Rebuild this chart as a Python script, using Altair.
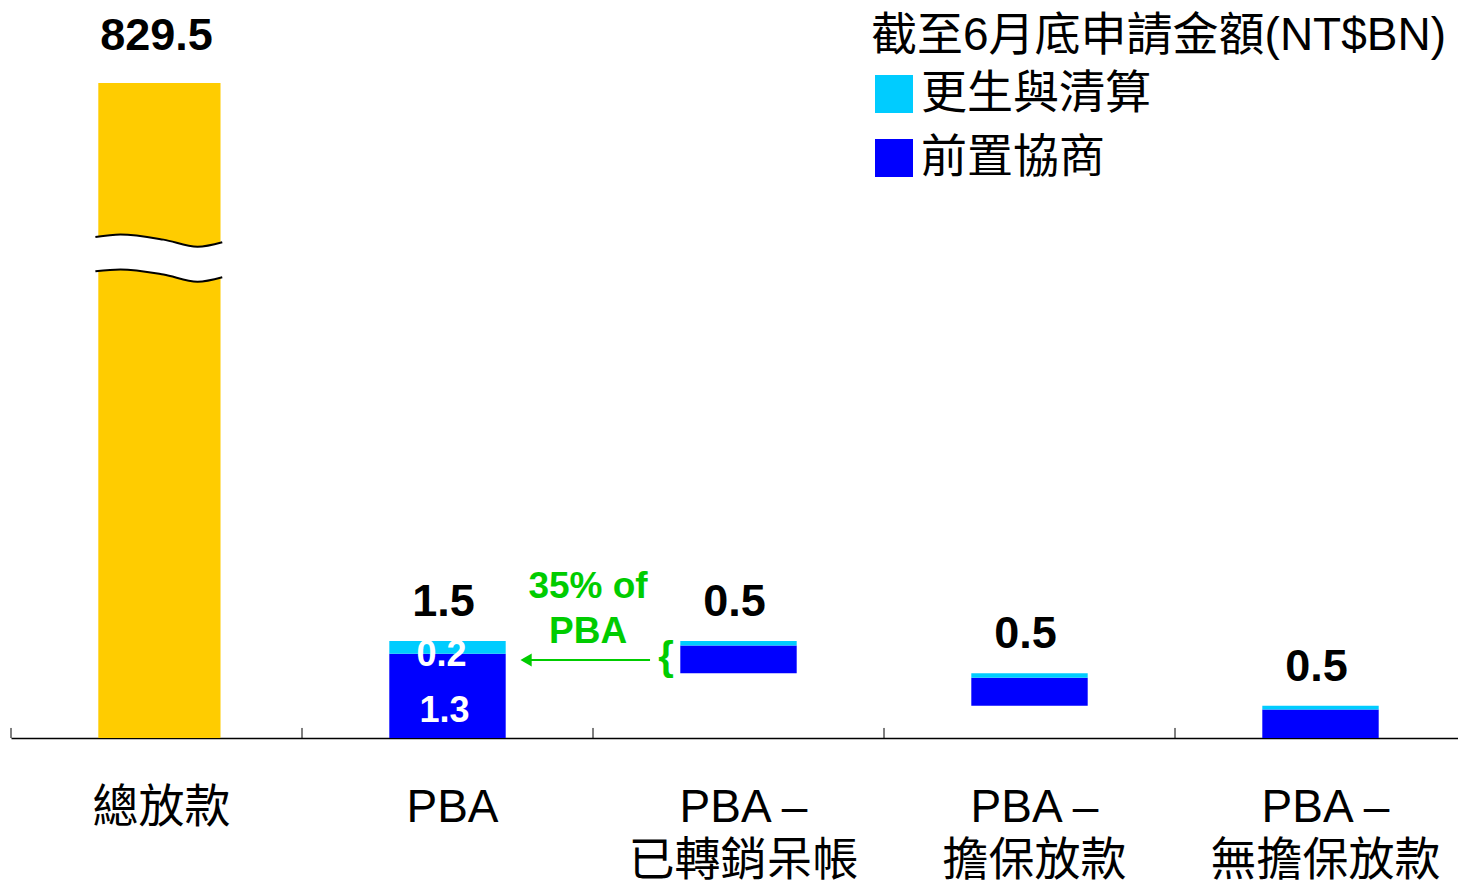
import altair as alt
import pandas as pd

# ---------------- data ----------------
categories = ["總放款", "PBA", "PBA –\n已轉銷呆帳", "PBA –\n擔保放款", "PBA –\n無擔保放款"]
total_loans_label = "829.5"
total_loans_display = 10.12          # broken-axis display height of 829.5
blue_values = [None, 1.3, 0.43, 0.43, 0.44]   # 前置協商
cyan_values = [None, 0.2, 0.07, 0.07, 0.06]   # 更生與清算
base_values = [None, 0.0, 1.0, 0.5, 0.0]      # waterfall start
top_labels = [None, "1.5", "0.5", "0.5", "0.5"]
series_names = ["更生與清算", "前置協商"]
series_colors = ["#00CCFF", "#0000FF"]
# broken-axis wave (relative x within first bar, y in value units)
wave_dx = [-0.22, -0.134, 0.014, 0.131, 0.216]
wave_top = [7.74, 7.78, 7.70, 7.59, 7.66]
wave_bot = [7.21, 7.24, 7.16, 7.05, 7.12]

FONT = "Liberation Sans, Arial, Noto Sans CJK TC"
GREEN = "#00CC00"

rows = []
for i in range(1, len(categories)):
    b = base_values[i]
    rows.append({"idx": i, "series": "前置協商", "y0": b, "y1": b + blue_values[i]})
    rows.append({"idx": i, "series": "更生與清算", "y0": b + blue_values[i],
                 "y1": b + blue_values[i] + cyan_values[i]})
seg_df = pd.DataFrame(rows)

top_df = pd.DataFrame({
    "idx": list(range(1, len(categories))),
    "top": [base_values[i] + blue_values[i] + cyan_values[i] for i in range(1, len(categories))],
    "label": top_labels[1:],
})
cat_df = pd.DataFrame({"idx": list(range(len(categories))), "cat": categories})
yellow_df = pd.DataFrame({"idx": [0], "y0": [0.0], "y1": [total_loans_display], "label": [total_loans_label]})
wave_df = pd.DataFrame({"dx": wave_dx, "top": wave_top, "bot": wave_bot})
bound_df = pd.DataFrame({"b": [i - 0.5 for i in range(len(categories) + 1)]})
one = pd.DataFrame({"k": [0]})

# plot area 1447 px wide showing 4.9725 category slots (last boundary falls at page edge)
xscale = alt.Scale(domain=[-0.5, 4.4725], nice=False, zero=False)
yscale = alt.Scale(domain=[0, 11.217], nice=False, zero=True)
X_AX = alt.Axis(labels=False, ticks=False, grid=False, title=None, domainColor="black", domainWidth=1.5)

def xq(field):
    return alt.X(field, type="quantitative", scale=xscale, axis=X_AX)

def yq(field):
    return alt.Y(field, type="quantitative", scale=yscale, axis=None)

yellow = alt.Chart(yellow_df).mark_rect(color="#FFCC00").transform_calculate(
    xa="datum.idx - 0.2", xb="datum.idx + 0.22"
).encode(x=xq("xa:Q"), x2="xb:Q", y=yq("y0:Q"), y2="y1:Q")

yellow_lbl = alt.Chart(yellow_df).mark_text(
    font=FONT, fontSize=45, fontWeight="bold", color="black", baseline="alphabetic", dy=-33, dx=0
).encode(x=xq("idx:Q"), y=yq("y1:Q"), text="label:N")

wave = alt.Chart(wave_df).transform_calculate(x="datum.dx + 0.01")
wave_area = wave.mark_area(color="white", interpolate="monotone", opacity=1).encode(
    x=xq("x:Q"), y=yq("top:Q"), y2="bot:Q")
wave_l1 = wave.mark_line(color="black", strokeWidth=2, interpolate="monotone").encode(x=xq("x:Q"), y=yq("top:Q"))
wave_l2 = wave.mark_line(color="black", strokeWidth=2, interpolate="monotone").encode(x=xq("x:Q"), y=yq("bot:Q"))

bars = alt.Chart(seg_df).mark_rect().transform_calculate(
    xa="datum.idx - 0.2", xb="datum.idx + 0.2"
).encode(
    x=xq("xa:Q"), x2="xb:Q", y=yq("y0:Q"), y2="y1:Q",
    color=alt.Color("series:N", scale=alt.Scale(domain=series_names, range=series_colors),
                    legend=alt.Legend(
                        title="截至6月底申請金額(NT$BN)", orient="none", legendX=860, legendY=2,
                        titleFont=FONT, titleFontSize=46, titleFontWeight="normal", titleColor="black",
                        labelFont=FONT, labelFontSize=46, labelColor="black",
                        symbolType="square", symbolSize=1444, symbolStrokeWidth=0, symbolOpacity=1,
                        rowPadding=18, titlePadding=11, labelOffset=4, padding=0,
                        titleLimit=2000, labelLimit=2000)),
)

top_lbl = alt.Chart(top_df).mark_text(
    font=FONT, fontSize=45, fontWeight="bold", color="black", baseline="alphabetic", dy=-25, dx=-4
).encode(x=xq("idx:Q"), y=yq("top:Q"), text="label:N")

inner_13 = alt.Chart(seg_df).transform_filter("datum.idx == 1 && datum.series == '前置協商'").mark_text(
    font=FONT, fontSize=36, fontWeight="bold", color="white", baseline="alphabetic", dy=-16, dx=-3
).encode(x=xq("idx:Q"), y=yq("y0:Q"), text=alt.Text("y1:Q", format=".1f"))

inner_02 = alt.Chart(seg_df).transform_filter("datum.idx == 1 && datum.series == '更生與清算'").transform_calculate(
    v="datum.y1 - datum.y0").mark_text(
    font=FONT, fontSize=36, fontWeight="bold", color="white", baseline="alphabetic", dy=12, dx=-6
).encode(x=xq("idx:Q"), y=yq("y0:Q"), text=alt.Text("v:Q", format=".1f"))

ticks = alt.Chart(bound_df).transform_calculate(t0="0", t1="0.155").mark_rule(
    color="black", strokeWidth=1).encode(x=xq("b:Q"), y=yq("t0:Q"), y2="t1:Q")

cat_lbl = alt.Chart(cat_df).transform_calculate(
    lines="split(datum.cat, '\\n')").mark_text(
    font=FONT, fontSize=46, color="black", baseline="alphabetic", lineHeight=53, dx=5
).encode(x=xq("idx:Q"), y=alt.value(810), text="lines:N")

arrow_line = alt.Chart(one).transform_calculate(a="1.256", b="1.696", yy="1.205").mark_rule(
    color=GREEN, strokeWidth=2).encode(x=xq("a:Q"), x2="b:Q", y=yq("yy:Q"))
arrow_head = alt.Chart(one).transform_calculate(a="1.27", yy="1.205").mark_point(
    shape="triangle-left", filled=True, color=GREEN, size=170, opacity=1).encode(x=xq("a:Q"), y=yq("yy:Q"))
brace = alt.Chart(one).transform_calculate(a="1.751", yy="1.236").mark_text(
    text="{", font=FONT, fontSize=40, fontWeight="bold", color=GREEN, baseline="middle").encode(
    x=xq("a:Q"), y=yq("yy:Q"))
green_txt = alt.Chart(one).transform_calculate(a="1.483", yy="2.163").mark_text(
    text=["35% of", "PBA"], font=FONT, fontSize=37, fontWeight="bold",
    color=GREEN, baseline="alphabetic", lineHeight=45).encode(x=xq("a:Q"), y=yq("yy:Q"))

chart = alt.layer(
    yellow, wave_area, wave_l1, wave_l2, bars, ticks, yellow_lbl, top_lbl, inner_13, inner_02,
    cat_lbl, arrow_line, arrow_head, brace, green_txt
).properties(
    width=1447, height=726,
    autosize=alt.AutoSizeParams(type="none"),
    padding={"left": 3, "top": 4, "right": 0, "bottom": 147},
).configure_view(stroke=None).configure_axis(grid=False)

chart.save("out.html", embed_options={"renderer": "svg", "actions": False})
